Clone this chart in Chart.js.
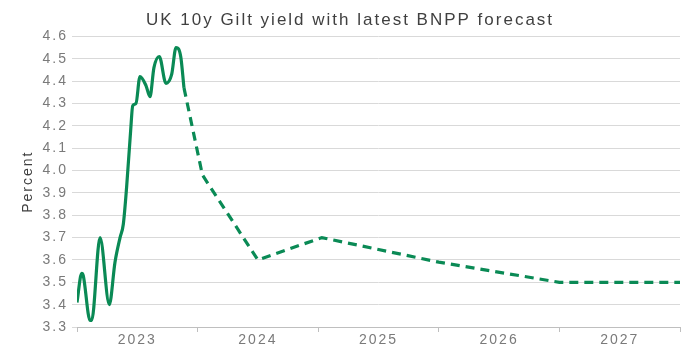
<!DOCTYPE html>
<html><head><meta charset="utf-8">
<script src="https://cdn.jsdelivr.net/npm/chart.js@4/dist/chart.umd.min.js"></script>
<style>html,body{margin:0;padding:0;background:#fff}#wrap{width:691px;height:353px}</style>
</head><body><div id="wrap"><canvas id="c" width="691" height="353"></canvas></div>
<script>
// Historical (solid) – time in fractional years
const histT = [2023.0, 2023.039, 2023.052, 2023.108, 2023.122, 2023.191, 2023.268, 2023.315, 2023.357, 2023.384, 2023.412, 2023.445, 2023.462, 2023.489, 2023.522, 2023.572, 2023.605, 2023.638, 2023.682, 2023.738, 2023.785, 2023.821, 2023.860, 2023.887];
const histY = [3.41, 3.54, 3.53, 3.33, 3.33, 3.70, 3.40, 3.59, 3.70, 3.76, 3.93, 4.18, 4.29, 4.30, 4.42, 4.38, 4.33, 4.46, 4.51, 4.39, 4.43, 4.55, 4.51, 4.37];
// Forecast (dashed)
const fcT = [2023.887, 2024.04, 2024.5, 2025.03, 2026.0, 2027.0, 2028.0];
const fcY = [4.37, 3.98, 3.60, 3.70, 3.59, 3.50, 3.50];
const yearLabels = ['2023', '2024', '2025', '2026', '2027'];

const green = '#0a8a55';
const toPts = (t, y) => t.map((v, i) => ({x: v, y: y[i]}));
const FONT = 'Liberation Sans, Arial, sans-serif';

const spacing = {
  id: 'spacing',
  beforeInit(chart) { chart.ctx.letterSpacing = '2px'; },
  beforeUpdate(chart) { chart.ctx.letterSpacing = '2px'; },
  beforeDraw(chart) { chart.ctx.letterSpacing = '2px'; }
};

new Chart(document.getElementById('c'), {
  type: 'line',
  plugins: [spacing],
  data: {
    datasets: [
      {data: toPts(histT, histY), borderColor: green, borderWidth: 3.2, pointRadius: 0, tension: 0.4, cubicInterpolationMode: 'monotone'},
      {data: toPts(fcT, fcY), borderColor: green, borderWidth: 3.2, pointRadius: 0, tension: 0, borderDash: [9, 6]}
    ]
  },
  options: {
    responsive: false,
    animation: false,
    layout: {padding: {left: 20, right: 11, top: 0, bottom: 0}},
    plugins: {
      legend: {display: false},
      tooltip: {enabled: false},
      title: {display: true, text: 'UK 10y Gilt yield with latest BNPP forecast', color: '#404040',
        font: {family: FONT, size: 17, weight: 'normal'}, padding: {top: 10, bottom: 6}}
    },
    scales: {
      x: {
        type: 'linear', min: 2023, max: 2028,
        afterFit: s => { s.height = 26; },
        border: {color: '#bfbfbf'},
        grid: {drawOnChartArea: false, tickLength: 5,
          color: c => (c.tick && Math.abs(c.tick.value % 1) < 1e-6) ? '#bfbfbf' : 'rgba(0,0,0,0)'},
        ticks: {stepSize: 0.5, autoSkip: false, maxRotation: 0, padding: 0, color: '#7a7a7a',
          font: {family: FONT, size: 14},
          callback: v => { const i = Math.floor(v) - 2023; return (Math.abs(v % 1 - 0.5) < 1e-6 && yearLabels[i]) ? yearLabels[i] : ''; }}
      },
      y: {
        min: 3.3, max: 4.6,
        afterFit: s => { s.width = 57; },
        border: {display: false},
        grid: {color: '#d9d9d9', tickLength: 5},
        ticks: {stepSize: 0.1, padding: 4, color: '#7a7a7a',
          font: {family: FONT, size: 14},
          callback: v => v.toFixed(1)},
        title: {display: true, text: 'Percent', color: '#404040', padding: {top: 0, bottom: 0},
          font: {family: FONT, size: 14}}
      }
    }
  }
});
</script></body></html>
